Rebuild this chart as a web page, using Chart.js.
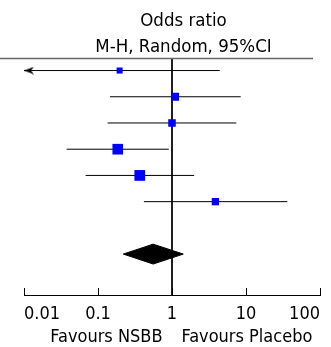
<!DOCTYPE html>
<html><head><meta charset="utf-8">
<script src="https://cdn.jsdelivr.net/npm/chart.js@4"></script>
<style>html,body{margin:0;padding:0;background:#fff;overflow:hidden}#wrap{width:331px;height:347px;position:relative}</style>
</head><body><div id="wrap"><canvas id="c" width="331" height="347"></canvas></div>
<script>
// ---- data ----
const studyRows = [1, 2, 3, 4, 5, 6];
const oddsRatio = [0.196, 1.10, 1.00, 0.185, 0.367, 3.86];
const ciLower   = [0.004, 0.145, 0.135, 0.0377, 0.068, 0.417];
const ciUpper   = [4.42, 8.48, 7.4, 0.905, 1.99, 36.2];
const weights   = [8.3, 14.7, 12.9, 25.7, 26.2, 12.2];
const pooledRow = [8];
const pooledOR    = [0.556];
const pooledLower = [0.22];
const pooledUpper = [1.42];
const tickValues = [0.01, 0.1, 1, 10, 100];
const headerLines = ['Odds ratio', 'M-H, Random, 95%CI'];
const favourLabels = ['Favours NSBB', 'Favours Placebo'];

const X_MIN = 0.01, X_MAX = 100, Y_MIN = 0.56, Y_MAX = 9.56;
const FONT = '"DejaVu Sans Condensed", "DejaVu Sans", sans-serif';

// arrow head (points left, tip at image centre)
const arrow = document.createElement('canvas');
arrow.width = 24; arrow.height = 8;
(function(){
  const a = arrow.getContext('2d');
  a.fillStyle = '#000';
  a.beginPath(); a.moveTo(12, 4); a.lineTo(22, 0.3); a.lineTo(19, 4); a.lineTo(22, 7.7); a.closePath(); a.fill();
})();

const datasets = [];
// squares (drawn last = on top)
datasets.push({
  data: studyRows.map((r, i) => ({x: oddsRatio[i], y: r})),
  showLine: false,
  pointStyle: 'rect',
  pointRadius: weights.map(w => 2.1 * Math.sqrt(w) / Math.SQRT2),
  pointBackgroundColor: '#0000ff',
  pointBorderWidth: 0,
  borderWidth: 0
});
// pooled diamond
const dh = 0.38;
datasets.push({
  data: [
    {x: pooledLower[0], y: pooledRow[0]},
    {x: pooledOR[0], y: pooledRow[0] - dh},
    {x: pooledUpper[0], y: pooledRow[0]},
    {x: pooledOR[0], y: pooledRow[0] + dh},
    {x: pooledLower[0], y: pooledRow[0]}
  ],
  borderColor: '#000', borderWidth: 1, backgroundColor: '#000',
  fill: 'shape', pointRadius: 0, tension: 0
});
// confidence intervals
studyRows.forEach((r, i) => {
  const clipped = ciLower[i] < X_MIN;
  datasets.push({
    data: [{x: clipped ? X_MIN : ciLower[i], y: r}, {x: Math.min(ciUpper[i], X_MAX), y: r}],
    borderColor: '#000', borderWidth: 1,
    pointRadius: [clipped ? 4 : 0, 0],
    pointStyle: [clipped ? arrow : 'circle', 'circle'],
    fill: false
  });
});
// line of no effect
datasets.push({
  data: [{x: 1, y: Y_MIN}, {x: 1, y: Y_MAX}],
  borderColor: '#000', borderWidth: 1, pointRadius: 0, fill: false
});

const decor = {
  id: 'decor',
  afterDraw(chart) {
    const ctx = chart.ctx, ca = chart.chartArea, xs = chart.scales.x;
    ctx.save();
    // upward tick marks
    ctx.strokeStyle = '#000'; ctx.lineWidth = 1;
    xs.ticks.forEach(t => {
      const px = Math.round(xs.getPixelForValue(t.value)) + 0.5;
      ctx.beginPath(); ctx.moveTo(px, ca.bottom); ctx.lineTo(px, ca.bottom - 7); ctx.stroke();
    });
    // top rule
    ctx.strokeStyle = '#666'; ctx.lineWidth = 1.5;
    ctx.beginPath(); ctx.moveTo(0, ca.top - 0.5); ctx.lineTo(xs.right - 7, ca.top - 0.5); ctx.stroke();
    // header
    const p1 = xs.getPixelForValue(1);
    ctx.fillStyle = '#000'; ctx.textAlign = 'center'; ctx.textBaseline = 'alphabetic';
    ctx.font = '18.5px ' + FONT;
    ctx.fillText(headerLines[0], p1 + 11.5, 26);
    ctx.fillText(headerLines[1], p1 + 11.5, 51.5);
    // favours labels
    ctx.font = '18px ' + FONT;
    ctx.textAlign = 'right'; ctx.fillText(favourLabels[0], p1 - 9.5, 341.5);
    ctx.textAlign = 'left'; ctx.fillText(favourLabels[1], p1 + 9.5, 341.5);
    ctx.restore();
  }
};

new Chart(document.getElementById('c'), {
  type: 'line',
  data: {datasets},
  plugins: [decor],
  options: {
    responsive: false, animation: false, devicePixelRatio: 1,
    events: [],
    layout: {padding: {left: 24, right: 11, top: 59, bottom: 0}},
    plugins: {legend: {display: false}, tooltip: {enabled: false}, title: {display: false}},
    scales: {
      x: {
        type: 'logarithmic', min: X_MIN, max: X_MAX, position: 'bottom',
        afterBuildTicks: s => { s.ticks = tickValues.map(v => ({value: v})); },
        afterFit: s => { s.height = 52; },
        grid: {display: true, drawOnChartArea: false, drawTicks: false},
        border: {display: true, color: '#000', width: 1},
        ticks: {align: 'inner', padding: 9, color: '#000', autoSkip: false, maxRotation: 0,
          font: {family: FONT, size: 18}, callback: v => String(v)}
      },
      y: {type: 'linear', display: false, reverse: true, min: Y_MIN, max: Y_MAX}
    }
  }
});
</script></body></html>
